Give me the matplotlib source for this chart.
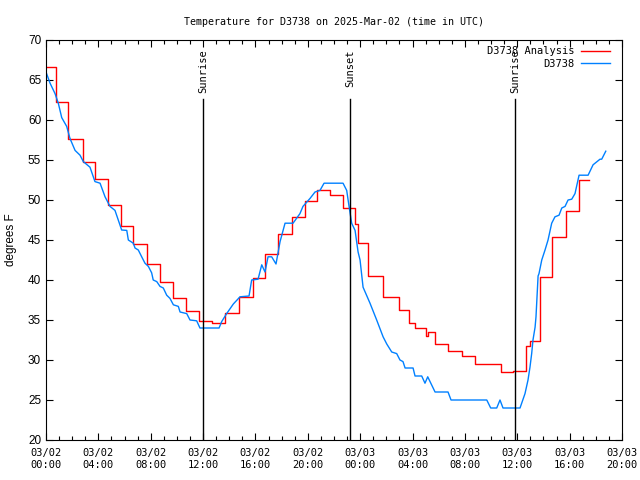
import matplotlib
matplotlib.use("Agg")
import matplotlib.pyplot as plt
from matplotlib.ticker import MultipleLocator
from datetime import datetime, timedelta

# hours since 2025-03-02 00:00 UTC
obs_hours = [0, 0.31, 0.69, 0.94, 1.20, 1.58, 1.83, 2.22, 2.60, 2.85, 3.36, 3.74, 4.13,
             4.51, 4.89, 5.27, 5.78, 6.17, 6.29, 6.67, 6.80, 7.05, 7.31, 7.56, 7.82,
             8.07, 8.19, 8.46, 8.71, 8.96, 9.22, 9.47, 9.73, 10.11, 10.24, 10.75, 11.0,
             11.51, 11.76, 13.22, 13.42, 13.80, 14.31, 14.82, 15.51, 15.71, 16.2, 16.48,
             16.73, 16.96, 17.24, 17.57, 17.88, 18.26, 18.87, 19.40, 19.63, 20.17, 20.55,
             20.93, 21.24, 22.69, 22.97, 23.15, 23.35, 23.61, 23.84, 23.99, 24.22, 24.75,
             25.26, 25.75, 26.03, 26.41, 26.79, 27.04, 27.27, 27.43, 28.04, 28.19, 28.7,
             28.95, 29.16, 29.72, 30.71, 30.94, 33.67, 33.97, 34.43, 34.68, 34.91, 36.21,
             36.59, 36.82, 36.97, 37.1, 37.2, 37.36, 37.43, 37.59, 37.66, 37.87, 38.12,
             38.35, 38.63, 38.88, 39.19, 39.4, 39.65, 39.88, 40.16, 40.41, 40.72, 41.41,
             41.79, 42.32, 42.45, 42.76]
obs_temp = [66.0, 64.6, 63.3, 62.1, 60.3, 59.2, 57.7, 56.2, 55.6, 54.8, 54.1, 52.3, 52.1,
            50.4, 49.2, 48.7, 46.25, 46.2, 45.0, 44.6, 44.0, 43.75, 42.9, 42.1, 41.7,
            40.9, 40.0, 39.8, 39.2, 39.0, 38.1, 37.7, 36.9, 36.7, 36.0, 35.8, 35.0,
            34.9, 34.0, 34.0, 34.8, 35.8, 37.0, 37.9, 38.0, 40.0, 40.1, 41.9,
            41.0, 42.9, 42.9, 42.0, 44.8, 47.1, 47.1, 48.3, 49.2, 50.2, 51.0,
            51.2, 52.1, 52.1, 51.2, 49.2, 47.1, 46.2, 43.5, 42.5, 39.1, 37.1,
            35.0, 32.9, 32.0, 31.0, 30.8, 30.0, 29.8, 29.0, 29.0, 28.0, 28.0,
            27.1, 27.9, 26.0, 26.0, 25.0, 25.0, 24.0, 24.0, 25.0, 24.0, 24.0,
            25.8, 27.5, 29.1, 30.8, 32.5, 34.1, 35.4, 40.5, 40.8, 42.5, 43.75,
            45.0, 47.1, 47.9, 48.1, 49.0, 49.2, 50.0, 50.1, 50.8, 53.1, 53.1,
            54.4, 55.1, 55.1, 56.1]

ana_hours = [0, 0.76, 1.7, 2.8, 3.74, 4.76, 5.73, 6.67, 7.7, 8.71, 9.7, 10.7, 11.7, 12.68,
             13.67, 14.74, 15.79, 16.73, 17.72, 18.77, 19.79, 20.68, 21.7, 22.7, 23.6,
             23.85, 24.62, 25.77, 26.97, 27.73, 28.18, 29.0, 29.2, 29.7, 30.7, 31.76,
             32.77, 34.73, 35.66, 36.65, 36.98, 37.7, 38.68, 39.7, 40.74, 41.46]
ana_temp = [66.6, 62.2, 57.6, 54.7, 52.6, 49.4, 46.75, 44.5, 42.0, 39.8, 37.8, 36.1, 34.9,
            34.6, 35.9, 37.9, 40.2, 43.25, 45.8, 47.9, 49.9, 51.2, 50.6, 49.0, 47.0,
            44.6, 40.5, 37.9, 36.25, 34.6, 34.0, 33.0, 33.5, 32.0, 31.1, 30.5,
            29.5, 28.5, 28.6, 31.7, 32.4, 40.4, 45.4, 48.6, 52.5, 52.5]

sun_events = ["Sunrise", "Sunset", "Sunrise"]
sun_hours = [11.99, 23.22, 35.83]

base = datetime(2025, 3, 2)
mono = "DejaVu Sans Mono"
sans = "Liberation Sans"

fig = plt.figure(figsize=(6.4, 4.8), dpi=100)
ax = fig.add_axes([46 / 640, 40 / 480, 576 / 640, 400 / 480])

ax.plot(ana_hours, ana_temp, drawstyle="steps-post", color="#ff0000", lw=1.0,
        label="D3738 Analysis")
ax.plot(obs_hours, obs_temp, color="#0080ff", lw=1.0, label="D3738")

for name, h in zip(sun_events, sun_hours):
    ax.plot([h, h], [20, 62.6], color="black", lw=1.0)
    ax.text(h, 68.8, name, rotation=90, ha="center", va="top",
            fontsize=7.5, family=mono)

ax.set_xlim(0, 44)
ax.set_ylim(20, 70)
ax.xaxis.set_major_locator(MultipleLocator(4))
ax.xaxis.set_minor_locator(MultipleLocator(1))
ax.yaxis.set_major_locator(MultipleLocator(5))
xt = list(range(0, 45, 4))
ax.set_xticks(xt)
ax.set_xticklabels([(base + timedelta(hours=h)).strftime("%m/%d\n%H:%M") for h in xt],
                   family=mono, fontsize=7.5)
for lab in ax.get_yticklabels():
    lab.set_fontsize(8.5)
    lab.set_family(sans)
ax.tick_params(which="both", direction="in", top=True, right=True, width=0.8)
ax.tick_params(which="major", length=5)
ax.tick_params(which="minor", length=3)
ax.tick_params(axis="x", pad=6)
ax.set_ylabel("degrees F", fontsize=8.5, family=sans, labelpad=8)

ax.set_title("Temperature for D3738 on 2025-Mar-02 (time in UTC)", family=mono,
             fontsize=7.2, pad=11)

ax.legend(loc="upper right", bbox_to_anchor=(1 - 8 / 576, 1 - 2 / 400), frameon=False,
          markerfirst=False, prop={"family": mono, "size": 7.5},
          handlelength=2.8, borderaxespad=0, labelspacing=0.25, handletextpad=0.6)

fig.savefig("out.png", dpi=100)
